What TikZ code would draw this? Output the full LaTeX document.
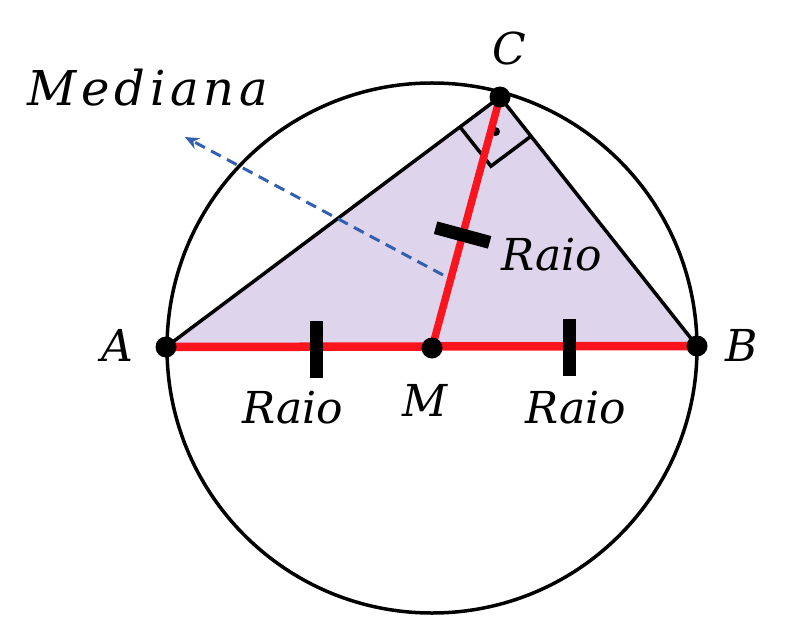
\documentclass[tikz,border=0pt]{standalone}
\usepackage{fontspec}
\setmainfont{DejaVu Serif}
\newfontfamily\medfont[LetterSpace=10]{DejaVu Serif}
\usetikzlibrary{arrows.meta,calc}
\definecolor{lav}{RGB}{222,213,236}
\definecolor{redl}{RGB}{250,20,30}
\definecolor{blued}{RGB}{50,95,175}
\begin{document}
\begin{tikzpicture}[x=1pt,y=-1pt,
  lbl/.style={inner sep=0pt,font=\fontsize{44}{46}\selectfont\itshape},
  pt/.style={circle,fill=black,inner sep=0pt,minimum size=21pt},
  tick/.style={line width=13pt,black}]
\useasboundingbox (0,0) rectangle (799,617);
\coordinate (A) at (166,347);
\coordinate (B) at (697,346);
\coordinate (M) at (432,348);
\coordinate (C) at (500,97);
\fill[lav] (A) -- (B) -- (C) -- cycle;
\draw[line width=3.5pt] (432,348) circle (265);
\draw[line width=3.5pt,line join=round] (A) -- (C) -- (B);
% right angle mark
\coordinate (P1) at ($(C)!50pt!(A)$);
\coordinate (P2) at ($(C)!50pt!(B)$);
\draw[line width=3.5pt] (P1) -- ($(P1)+(P2)-(C)$) -- (P2);
\fill ($(C)!0.5!($(P1)+(P2)-(C)$)$) circle (4.5);
\draw[redl,line width=8.5pt] (A) -- (B);
\draw[redl,line width=7.5pt] (M) -- (C);
% ticks
\draw[tick] (316,321) -- (316,378);
\draw[tick] (569,319) -- (569,376);
\coordinate (T) at ($(M)!0.45!(C)$);
\draw[tick] ($(T)!28pt!90:(C)$) -- ($(T)!28pt!-90:(C)$);
% dashed arrow
\coordinate (D1) at (443,275);
\coordinate (D2) at (185,137);
\draw[blued,line width=3pt,dash pattern=on 11pt off 7pt,-{Stealth[length=14pt,width=12pt]}] (D1) -- (D2);
\node[pt] (nA) at (A) {};
\node[pt] (nB) at (B) {};
\node[pt] (nM) at (M) {};
\node[pt] (nC) at (C) {};
\node[lbl] (lA) at (117,345) {A};
\node[lbl] (lB) at (742,345) {B};
\node[lbl] (lC) at (509,48) {C};
\node[lbl] (lM) at (425,400) {M};
\node[lbl] (r1) at (293,408) {Raio};
\node[lbl] (r2) at (576,408) {Raio};
\node[lbl] (r3) at (552,255) {Raio};
\node[lbl,font=\fontsize{48}{50}\medfont\itshape] (med) at (148,88) {Mediana};
\end{tikzpicture}
\end{document}
